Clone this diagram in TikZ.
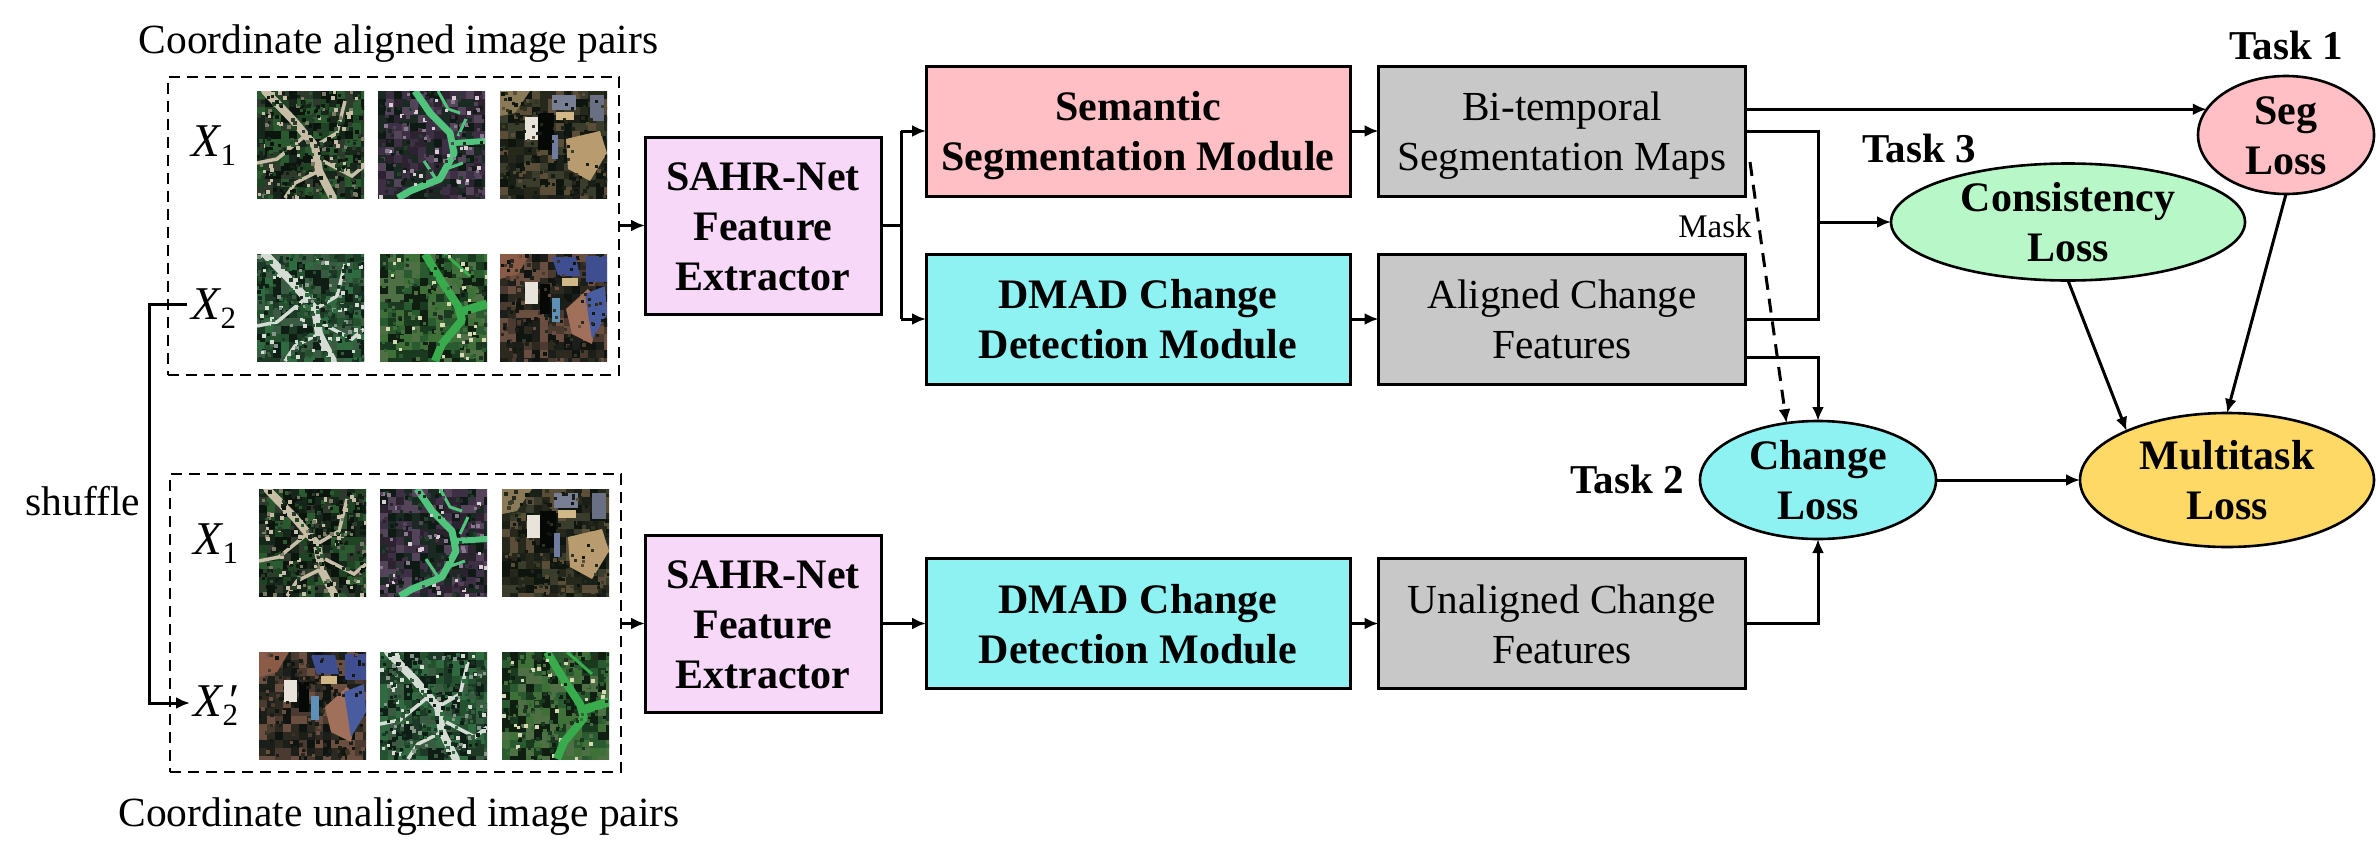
\documentclass[tikz,border=0pt]{standalone}
\usepackage{fontspec}
\setmainfont{Liberation Serif}
\usetikzlibrary{arrows.meta,shapes.geometric,calc}
% forest palette X1 / X2
\definecolor{fa1}{HTML}{16261A}\definecolor{fa2}{HTML}{0C140E}\definecolor{fa3}{HTML}{2C5A30}
\definecolor{fa4}{HTML}{1E4424}\definecolor{fa5}{HTML}{2E3A2C}\definecolor{fa6}{HTML}{C8BEA8}
\definecolor{fa7}{HTML}{101C12}\definecolor{fa8}{HTML}{7A7A66}
\definecolor{fb1}{HTML}{1C3A26}\definecolor{fb2}{HTML}{0E1E14}\definecolor{fb3}{HTML}{2F6A40}
\definecolor{fb4}{HTML}{24522F}\definecolor{fb5}{HTML}{3A5A42}\definecolor{fb6}{HTML}{D4DCD4}
\definecolor{fb7}{HTML}{143020}\definecolor{fb8}{HTML}{86968A}
% river palette X1 / X2
\definecolor{ra1}{HTML}{1A2A22}\definecolor{ra2}{HTML}{2C2230}\definecolor{ra3}{HTML}{3E3044}
\definecolor{ra4}{HTML}{0E1A14}\definecolor{ra5}{HTML}{54445A}\definecolor{ra6}{HTML}{DCCCD4}
\definecolor{ra7}{HTML}{24402C}\definecolor{ra8}{HTML}{8A7890}
\definecolor{rb1}{HTML}{2A5A30}\definecolor{rb2}{HTML}{1A3A20}\definecolor{rb3}{HTML}{3F7038}
\definecolor{rb4}{HTML}{101E12}\definecolor{rb5}{HTML}{4E7044}\definecolor{rb6}{HTML}{D8D8B4}
\definecolor{rb7}{HTML}{356434}\definecolor{rb8}{HTML}{223022}
% urban palette X1 / X2
\definecolor{ua1}{HTML}{1A2018}\definecolor{ua2}{HTML}{0E140E}\definecolor{ua3}{HTML}{3A3C2C}
\definecolor{ua4}{HTML}{26281C}\definecolor{ua5}{HTML}{5A4E38}\definecolor{ua6}{HTML}{12180E}
\definecolor{ua7}{HTML}{30341F}\definecolor{ua8}{HTML}{181C14}
\definecolor{ub1}{HTML}{1C1E1A}\definecolor{ub2}{HTML}{101410}\definecolor{ub3}{HTML}{4A3A30}
\definecolor{ub4}{HTML}{2C2A20}\definecolor{ub5}{HTML}{6A4E40}\definecolor{ub6}{HTML}{14180E}
\definecolor{ub7}{HTML}{383428}\definecolor{ub8}{HTML}{1A1E18}
\definecolor{riverg}{HTML}{50C47C}\definecolor{riverh}{HTML}{38AC4C}
\definecolor{boxpink}{HTML}{FFBFC4}\definecolor{boxcyan}{HTML}{8FF2F2}\definecolor{boxgray}{HTML}{C8C8C8}
\definecolor{boxlilac}{HTML}{F8D8F8}\definecolor{ellgreen}{HTML}{B8F8C8}\definecolor{ellgold}{HTML}{FFD966}
\definecolor{ctan}{HTML}{B89C70}\definecolor{cgreyblue}{HTML}{787E94}\definecolor{cgreyblueb}{HTML}{6A7084}
\definecolor{clighttan}{HTML}{D0B888}\definecolor{cwhite}{HTML}{E8E4DC}\definecolor{cblack}{HTML}{050805}
\definecolor{csteel}{HTML}{6F7CA0}\definecolor{cbrown}{HTML}{8A7A58}\definecolor{crust}{HTML}{A0705A}
\definecolor{cnavy}{HTML}{3E4E90}\definecolor{cnavyb}{HTML}{4A5CA0}\definecolor{csky}{HTML}{5F90B8}
\definecolor{cclay}{HTML}{8A5C48}
\newcommand{\mosaic}[1]{%
  \foreach \i in {0,8,...,104}{\foreach \j in {0,8,...,104}{%
    \pgfmathrandominteger{\k}{1}{5}%
    \fill[#1\k] (\i,\j) rectangle +(8.2,8.2);}}}
\newcommand{\speck}[3]{% palette, count, size
  \foreach \n in {1,...,#2}{%
    \pgfmathrandominteger{\k}{1}{8}\pgfmathrandominteger{\a}{0}{105}\pgfmathrandominteger{\b}{0}{105}%
    \fill[#1\k] (\a,\b) rectangle +(#3,#3);}}
\newcommand{\roadpaths}[1]{%
  \draw[#1,line width=8,line cap=round,line join=round] (8,0) -- (35,28) -- (58,55) -- (62,80) -- (76,107);
  \draw[#1,line width=3.5] (58,55) -- (80,42) -- (88,10);
  \draw[#1,line width=3.5] (48,45) -- (20,68) -- (0,72);
  \draw[#1,line width=3.5] (62,80) -- (38,92) -- (28,107);
  \draw[#1,line width=3.5] (66,70) -- (95,85) -- (107,75);}
\newcommand{\thumb}[4]{% x, y, palette, feature
  \begin{scope}[shift={(#1,#2)}]
    \clip (0,0) rectangle (107,107);
    \mosaic{#3}#4
  \end{scope}}
\newcommand{\forA}{\roadpaths{fa6}\speck{fa}{170}{4}\speck{fa}{130}{2.5}}
\newcommand{\forB}{\roadpaths{fb6}\speck{fb}{170}{4}\speck{fb}{130}{2.5}}
\newcommand{\rivA}{%
  \speck{ra}{130}{4}%
  \draw[riverg,line width=7,line join=round] (37,0) -- (52,22) -- (72,42) -- (76,62) -- (62,88) -- (32,100) -- (20,107);
  \draw[riverg,line width=6] (76,52) -- (107,50);
  \draw[riverg,line width=3] (60,0) -- (70,18) -- (82,22);
  \draw[riverg,line width=3] (80,45) -- (88,28);
  \draw[riverg,line width=3] (68,78) -- (85,72);
  \draw[riverg,line width=3] (58,88) -- (46,70);
  \speck{ra}{60}{2.5}}
\newcommand{\rivB}{%
  \speck{rb}{130}{4}%
  \draw[riverh,line width=8,line join=round] (45,0) -- (62,28) -- (78,52) -- (82,66) -- (62,90) -- (55,107);
  \draw[riverh,line width=9] (80,58) -- (107,50);
  \draw[riverh,line width=3] (65,0) -- (90,22);
  \speck{rb}{60}{2.5}}
\newcommand{\urbA}{%
  \fill[cbrown] (0,0) -- (30,0) -- (15,22) -- (0,25) -- cycle;
  \speck{ua}{90}{4}%
  \fill[ctan] (66,48) -- (100,40) -- (107,62) -- (90,90) -- (68,78) -- cycle;
  \fill[cgreyblue] (52,4) -- (76,4) -- (76,19) -- (52,19) -- cycle;
  \fill[cgreyblueb] (90,4) -- (104,4) -- (104,30) -- (90,30) -- cycle;
  \fill[clighttan] (56,21) -- (74,21) -- (74,29) -- (56,29) -- cycle;
  \fill[cwhite] (25,26) -- (38,26) -- (38,49) -- (25,49) -- cycle;
  \fill[cblack] (38,22) -- (54,22) -- (54,59) -- (38,59) -- cycle;
  \fill[csteel] (52,44) -- (58,44) -- (58,68) -- (52,68) -- cycle;
  \speck{ua}{70}{2.5}}
\newcommand{\urbB}{%
  \fill[cclay] (0,0) -- (30,0) -- (18,20) -- (0,25) -- cycle;
  \speck{ub}{90}{4}%
  \fill[crust] (66,55) -- (88,35) -- (100,48) -- (92,90) -- (72,80) -- cycle;
  \fill[cnavy] (52,3) -- (76,3) -- (80,22) -- (58,22) -- cycle;
  \fill[cnavy] (86,2) -- (107,2) -- (107,28) -- (86,28) -- cycle;
  \fill[cnavyb] (85,40) -- (105,32) -- (107,60) -- (92,85) -- cycle;
  \fill[clighttan] (62,24) -- (78,24) -- (78,32) -- (62,32) -- cycle;
  \fill[cwhite] (25,28) -- (38,28) -- (38,50) -- (25,50) -- cycle;
  \fill[cblack] (40,30) -- (50,30) -- (50,60) -- (40,60) -- cycle;
  \fill[csky] (52,44) -- (60,44) -- (60,68) -- (52,68) -- cycle;
  \speck{ub}{70}{2.5}}
\newcommand{\subsc}[1]{\raisebox{-9.5pt}{\fontsize{31}{31}\selectfont #1}}
\newcommand{\XX}[1]{{\itshape X}\subsc{#1}}
\newcommand{\XP}{{\itshape X}\rlap{\hspace{4pt}\itshape\char"2032}\subsc{2}}
\newcommand{\lns}[1]{\rule{0pt}{39pt}#1\rule[-10pt]{0pt}{10pt}}
\tikzset{
  every node/.style={inner sep=0pt,outer sep=0pt,align=center,text=black},
  bodyfont/.style={font=\fontsize{41.3}{50}\selectfont},
  boldfont/.style={font=\fontsize{42}{50}\selectfont\bfseries},
  taskfont/.style={font=\fontsize{41}{50}\selectfont\bfseries},
  capfont/.style={font=\fontsize{41.5}{50}\selectfont},
  boxbase/.style={draw=black,line width=3,minimum height=130},
  feat/.style={boxbase,boldfont,fill=boxlilac,minimum width=236,minimum height=177},
  seg/.style={boxbase,boldfont,fill=boxpink,minimum width=424},
  dmad/.style={boxbase,boldfont,fill=boxcyan,minimum width=424},
  graybox/.style={boxbase,bodyfont,fill=boxgray,minimum width=367},
  loss/.style={ellipse,draw=black,line width=2.6,boldfont,inner ysep=-12pt},
  dashbox/.style={draw=black,line width=2.4,dash pattern=on 11pt off 7pt},
  conn/.style={draw=black,line width=3,-{Latex[length=14,width=12]}},
  plain/.style={draw=black,line width=3},
  xlabel/.style={font=\fontsize{47}{50}\selectfont}
}
\begin{document}
\begin{tikzpicture}[x=1pt,y=-1pt]
\useasboundingbox (0,0) rectangle (2376,862);
\fill[white] (0,0) rectangle (2376,862);
\pgfmathsetseed{4242}
% thumbnails
\thumb{257}{91}{fa}{\forA}
\thumb{378}{91}{ra}{\rivA}
\thumb{500}{91}{ua}{\urbA}
\thumb{257}{254}{fb}{\forB}
\thumb{380}{254}{rb}{\rivB}
\thumb{500}{254}{ub}{\urbB}
\thumb{259}{489}{fa}{\forA}
\thumb{380}{489}{ra}{\rivA}
\thumb{502}{489}{ua}{\urbA}
\thumb{259}{652}{ub}{\urbB}
\thumb{380}{652}{fb}{\forB}
\thumb{502}{652}{rb}{\rivB}
% dashed frames
\node[dashbox,minimum width=451,minimum height=298] (top) at (393.5,226) {};
\node[dashbox,minimum width=451,minimum height=298] (bot) at (395.5,623) {};
% captions
\node[capfont,anchor=base] (t1) at (398.5,53) {Coordinate aligned image pairs};
\node[capfont,anchor=base] (t2) at (399,826) {Coordinate unaligned image pairs};
\node[capfont,anchor=base] (shuf) at (83,515) {shuffle};
% image pair labels
\node[xlabel,anchor=base] (xa) at (214,156) {\XX{1}};
\node[xlabel,anchor=base] (xb) at (214,319) {\XX{2}};
\node[xlabel,anchor=base] (xc) at (216,554) {\XX{1}};
\node[xlabel,anchor=base] (xd) at (216,716) {\XP};
% boxes
\node[feat] (sahr1) at (763,225.5) {\lns{SAHR-Net\\Feature\\Extractor}};
\node[feat] (sahr2) at (763,623.5) {\lns{SAHR-Net\\Feature\\Extractor}};
\node[seg] (sem) at (1138,131) {\lns{Semantic\\Segmentation Module}};
\node[dmad] (dm1) at (1138,319) {\lns{DMAD Change\\Detection Module}};
\node[dmad] (dm2) at (1138,623.5) {\lns{DMAD Change\\Detection Module}};
\node[graybox] (bi) at (1562,131) {\lns{Bi-temporal\\Segmentation Maps}};
\node[graybox] (ac) at (1562,319) {\lns{Aligned Change\\Features}};
\node[graybox] (uc) at (1562,623.5) {\lns{Unaligned Change\\Features}};
% ellipses
\node[loss,fill=boxpink,minimum width=176,minimum height=118] (sl) at (2286,135) {\lns{Seg\\Loss}};
\node[loss,fill=ellgreen,minimum width=354,minimum height=117] (cl) at (2068,222) {\lns{Consistency\\Loss}};
\node[loss,fill=boxcyan,minimum width=236,minimum height=118] (chl) at (1818,480) {\lns{Change\\Loss}};
\node[loss,fill=ellgold,minimum width=294,minimum height=134] (ml) at (2227,480) {\lns{Multitask\\Loss}};
% task labels
\node[taskfont,anchor=base] (task1) at (2286,59) {Task 1};
\node[taskfont,anchor=base] (task3) at (1919,162) {Task 3};
\node[taskfont,anchor=base] (task2) at (1627,493) {Task 2};
\node[font=\fontsize{33}{33}\selectfont] (mask) at (1715,226) {Mask};
% helper coordinates
\coordinate (shufstart) at (187,304);
\coordinate (shufa) at (149.5,304);
\coordinate (shufb) at (149.5,703);
\coordinate (shufend) at (190,703);
\coordinate (fork) at (901,225.5);
\coordinate (elbow) at (1818,222);
\coordinate (maskstart) at (1750,162);
\coordinate (elbA) at (1745,131);
\coordinate (elbB) at (1745,319);
\coordinate (acout) at (1747,357);
\coordinate (ucout) at (1747,623.5);
% connectors
\draw[conn] (top.east |- sahr1.west) -- (sahr1.west);
\draw[conn] (bot.east |- sahr2.west) -- (sahr2.west);
\draw[conn] (shufstart) -- (shufa) -- (shufb) -- (shufend);
\draw[plain] (sahr1.east) -- (fork);
\draw[conn] (fork |- sem.west) -- (sem.west);
\draw[conn] (fork |- dm1.west) -- (dm1.west);
\draw[plain] (fork |- sem.west) -- (fork |- dm1.west);
\draw[conn] (sahr2.east) -- (dm2.west);
\draw[conn] (sem.east) -- (bi.west);
\draw[conn] (dm1.east) -- (ac.west);
\draw[conn] (dm2.east) -- (uc.west);
\draw[conn] (bi.east |- sl.162.6) -- (sl.162.6);
\draw[plain] (elbA) -- (elbow |- elbA) -- (elbow |- elbB) -- (elbB);
\draw[conn] (elbow) -- (cl.west);
\draw[conn] (acout) -- (chl.north |- acout) -- (chl.north);
\draw[conn] (ucout) -- (chl.south |- ucout) -- (chl.south);
\draw[conn,dashed,dash pattern=on 14pt off 9pt] (maskstart) -- (chl.119.4);
\draw[conn] (chl.east) -- (ml.west);
\draw[conn] (cl.south) -- (ml.154.8);
\draw[conn] (sl.south) -- (ml.north);
\end{tikzpicture}
\end{document}
